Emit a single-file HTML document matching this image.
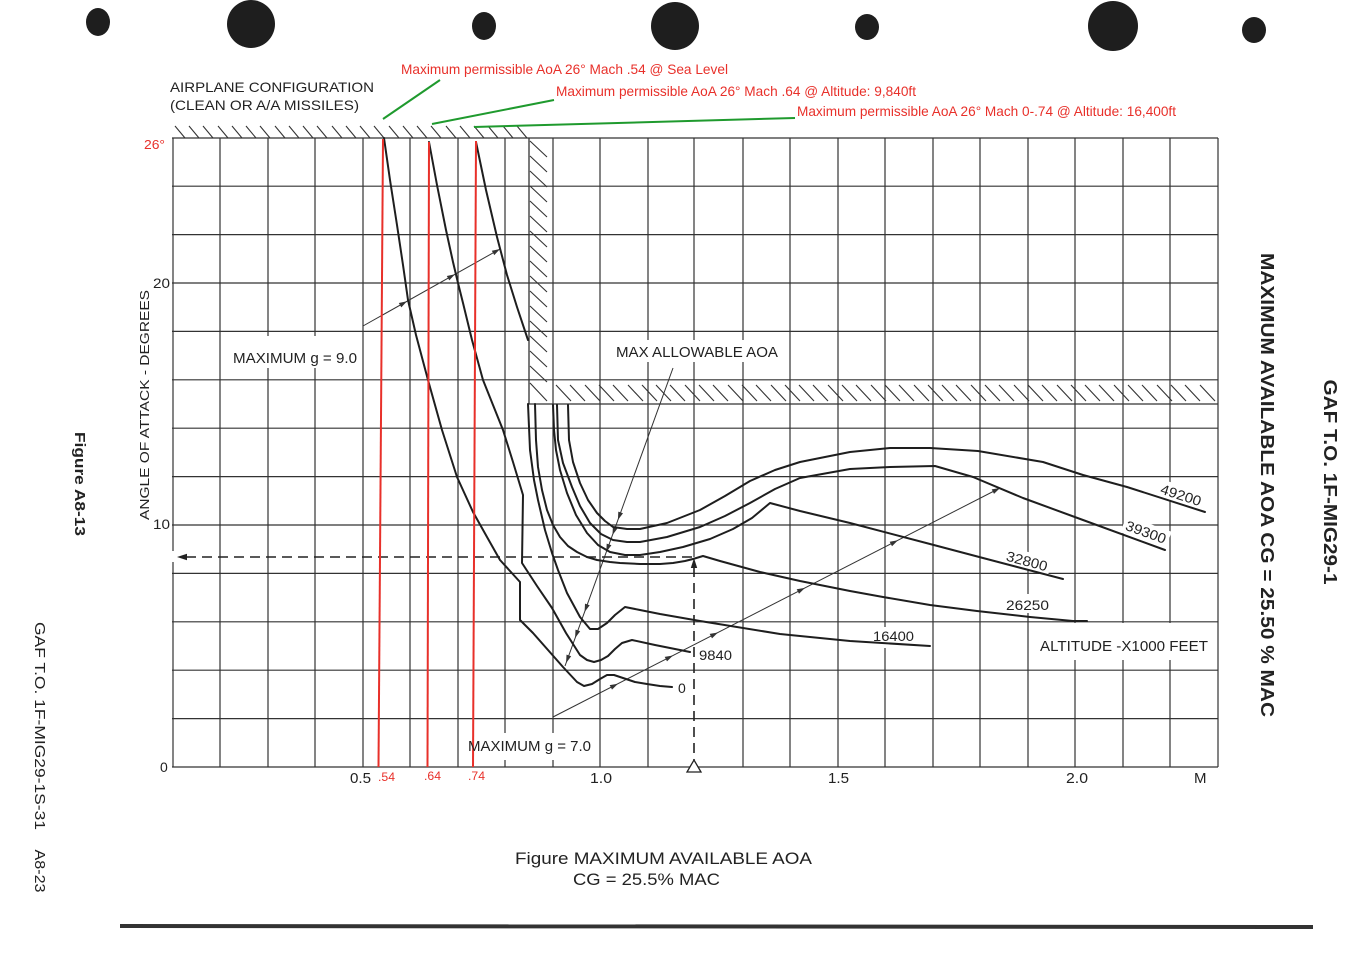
<!DOCTYPE html>
<html>
<head>
<meta charset="utf-8">
<style>
html,body{margin:0;padding:0;background:#fff;}
svg{display:block;}
text{font-family:"Liberation Sans",Arial,sans-serif;fill:#222;}
</style>
</head>
<body>
<svg width="1363" height="954" viewBox="0 0 1363 954" xmlns="http://www.w3.org/2000/svg">
<rect width="1363" height="954" fill="#fff"/>

<!-- punch holes -->
<g fill="#1e1e1e">
<ellipse cx="98" cy="22" rx="12" ry="14"/>
<circle cx="251" cy="24" r="24"/>
<ellipse cx="484" cy="26" rx="12" ry="14"/>
<circle cx="675" cy="26" r="24"/>
<ellipse cx="867" cy="27" rx="12" ry="13"/>
<circle cx="1113" cy="26" r="25"/>
<ellipse cx="1254" cy="30" rx="12" ry="13"/>
</g>

<!-- grid -->
<g stroke="#333" stroke-width="1.2" fill="none">
<path d="M173 138V767 M220 138V767 M268 138V767 M315 138V767 M363 138V767 M410 138V767 M458 138V767 M505 138V767 M553 138V767 M600 138V767 M648 138V767 M694 138V557 M743 138V767 M790 138V767 M838 138V767 M885 138V767 M933 138V767 M980 138V767 M1028 138V767 M1075 138V767 M1123 138V767 M1170 138V767 M1218 138V767"/>
<path d="M172 767H1218 M172 718.6H1218 M172 670.2H1218 M172 621.8H1218 M172 573.4H1218 M172 525H1218 M172 476.6H1218 M172 428.2H1218 M172 379.8H1218 M172 331.4H1218 M172 283H1218 M172 234.6H1218 M172 186.2H1218 M172 138H1218"/>
</g>
<!-- axis gap for dashed arrow -->
<rect x="170" y="551" width="5" height="11" fill="#fff"/>

<!-- boundary lines -->
<g stroke="#333" stroke-width="1.3" fill="none">
<path d="M529 138V404H1218"/>
</g>

<!-- hatching -->
<g stroke="#333" stroke-width="1.1" fill="none">
<path d="M175 126l10 12M189 126l10 12M203 126l10 12M218 126l10 12M232 126l10 12M246 126l10 12M260 126l10 12M275 126l10 12M289 126l10 12M303 126l10 12M317 126l10 12M332 126l10 12M346 126l10 12M360 126l10 12M374 126l10 12M389 126l10 12M403 126l10 12M417 126l10 12M431 126l10 12M446 126l10 12M460 126l10 12M474 126l10 12M488 126l10 12M503 126l10 12M517 126l10 12"/>
<path d="M530 141l17 16M530 156l17 16M530 171l17 16M530 186l17 16M530 201l17 16M530 216l17 16M530 231l17 16M530 246l17 16M530 261l17 16M530 276l17 16M530 291l17 16M530 306l17 16M530 321l17 16M530 336l17 16M530 351l17 16M530 366l17 16M530 383l17 18"/>
<path d="M556 385l15 16M570 385l15 16M585 385l15 16M599 385l15 16M613 385l15 16M628 385l15 16M642 385l15 16M656 385l15 16M670 385l15 16M685 385l15 16M699 385l15 16M713 385l15 16M728 385l15 16M742 385l15 16M756 385l15 16M771 385l15 16M785 385l15 16M799 385l15 16M813 385l15 16M828 385l15 16M842 385l15 16M856 385l15 16M871 385l15 16M885 385l15 16M899 385l15 16M914 385l15 16M928 385l15 16M942 385l15 16M956 385l15 16M971 385l15 16M985 385l15 16M999 385l15 16M1014 385l15 16M1028 385l15 16M1042 385l15 16M1057 385l15 16M1071 385l15 16M1085 385l15 16M1099 385l15 16M1114 385l15 16M1128 385l15 16M1142 385l15 16M1157 385l15 16M1171 385l15 16M1185 385l15 16M1200 385l15 16"/>
</g>

<!-- white label boxes -->
<g fill="#fff">
<rect x="226" y="336" width="133" height="32"/>
<rect x="610" y="340" width="175" height="22"/>
<rect x="462" y="733" width="135" height="27"/>
<rect x="1035" y="623" width="178" height="37"/>
<rect x="868" y="627" width="50" height="21"/>
<rect x="1002" y="594" width="51" height="19"/>
<rect x="696" y="643" width="40" height="17"/>
<rect x="676" y="677" width="12" height="16"/>
<rect x="1003" y="552" width="48" height="18" transform="rotate(15 1027 561)"/>
<rect x="1122" y="523" width="48" height="18" transform="rotate(20 1146 532)"/>
<rect x="1157" y="486" width="48" height="18" transform="rotate(18 1181 495)"/>
</g>

<!-- thin pointer lines -->
<g stroke="#333" stroke-width="1" fill="none">
<path d="M363 326L500 249"/>
<path d="M673 368L565 666"/>
<path d="M553 717L1000 488"/>
</g>
<g fill="#333">
<polygon points="407,301.3 401.3,307.4 398.8,303.0"/>
<polygon points="455,274.3 449.3,280.4 446.8,276.0"/>
<polygon points="500,249 494.3,255.1 491.8,250.7"/>
<polygon points="617.9,520 623,513.3 618.3,511.6"/>
<polygon points="612.5,535 617.6,528.3 612.9,526.6"/>
<polygon points="606.3,552 611.4,545.3 606.7,543.6"/>
<polygon points="584.6,612 589.7,605.3 585,603.6"/>
<polygon points="575.1,638 580.2,631.3 575.5,629.6"/>
<polygon points="566.1,663 571.2,656.3 566.5,654.6"/>
<polygon points="618,683.7 612,689.6 609.7,685.1"/>
<polygon points="673,655.5 667,661.4 664.7,656.9"/>
<polygon points="718,632.5 712,638.4 709.7,633.9"/>
<polygon points="805,587.9 799,593.8 796.7,589.3"/>
<polygon points="898,540.3 892,546.2 889.7,541.7"/>
<polygon points="1000,488 994,493.9 991.7,489.4"/>
</g>

<!-- dashed lines -->
<g stroke="#222" stroke-width="1.6" fill="none" stroke-dasharray="10 6">
<path d="M186 557H694"/>
<path d="M694 567V760"/>
</g>
<polygon points="177,557 187,553.8 187,560.2" fill="#222"/>
<polygon points="694,558 690.8,568 697.2,568" fill="#222"/>
<polygon points="687,772 701,772 694,760" fill="#fff" stroke="#222" stroke-width="1.3"/>

<!-- main curves -->
<g stroke="#1e1e1e" stroke-width="2" fill="none" stroke-linejoin="round" stroke-linecap="round">
<polyline points="384,138 390,180 397,225 403,265 408,300 416,335 428,380 442,430 457,477 473,512 487,537 500,560 520,582 520,620 533,633 548,650 563,667 577,682 584,686 592,684 600,679 607,675 614,675 623,678 635,682 647,684 660,686 672,687"/>
<polyline points="429,142 437,185 446,230 453,262 458,283 463,303 472,340 483,380 493,405 503,430 513,462 523,495 522,563 537,586 552,608 566,633 580,655 587,660 594,662 601,660 608,656 615,649 622,643 632,640 655,645 680,650 690,652"/>
<polyline points="476,142 486,190 497,237 507,275 517,307 528,340"/>
<polyline points="528,404 530,450 534,480 538,500 545,530 552,553 558,570 567,593 580,617 590,629 598,629 607,623 615,615 625,607 640,610 660,614 700,621 780,634 850,641 930,646"/>
<polyline points="535,404 536,440 538,467 542,490 547,510 553,525 560,537 568,546 577,552 587,557 597,560 610,562 620,563 640,564 660,564 673,563 685,561 693,559 703,556 720,561 760,572 800,581 850,591 883,597 930,605 977,611 1030,617 1073,621 1087,621"/>
<polyline points="553,405 554,430 556,450 560,470 567,493 576,515 587,533 598,545 610,552 625,555 640,555 660,552 683,547 710,539 733,529 752,518 770,503 800,511 850,523 930,544 983,558 1063,579"/>
<polyline points="557,405 558,440 563,463 572,487 580,506 590,523 601,534 613,540 627,542 640,542 667,537 700,527 725,516 750,503 775,489 800,478 850,469 890,467 935,466 973,477 1023,498 1083,520 1165,550"/>
<polyline points="568,405 569,440 573,462 580,483 588,500 597,513 605,521 613,527 627,529 640,529 667,523 700,510 725,496 750,481 775,470 800,462 850,452 890,448 930,448 978,451 1043,462 1083,475 1127,487 1205,512"/>
</g>

<!-- red lines -->
<g stroke="#e8302a" stroke-width="2" fill="none">
<path d="M383 139L378.5 767"/>
<path d="M429 142L427.5 767"/>
<path d="M476 141L473 767"/>
</g>
<!-- green leaders -->
<g stroke="#1f9a2e" stroke-width="2" fill="none">
<path d="M383 119L440 80"/>
<path d="M432 124L554 100"/>
<path d="M474 127L795 118"/>
</g>

<!-- texts -->
<text x="170" y="92" font-size="14" textLength="204" lengthAdjust="spacingAndGlyphs">AIRPLANE CONFIGURATION</text>
<text x="170" y="110" font-size="14" textLength="189" lengthAdjust="spacingAndGlyphs">(CLEAN OR A/A MISSILES)</text>

<g font-size="14" style="fill:#e8302a">
<text x="401" y="74" textLength="327" lengthAdjust="spacingAndGlyphs" style="fill:#e8302a">Maximum permissible AoA 26° Mach .54 @ Sea Level</text>
<text x="556" y="96" textLength="360" lengthAdjust="spacingAndGlyphs" style="fill:#e8302a">Maximum permissible AoA 26° Mach .64 @ Altitude: 9,840ft</text>
<text x="797" y="116" textLength="379" lengthAdjust="spacingAndGlyphs" style="fill:#e8302a">Maximum permissible AoA 26° Mach 0-.74 @ Altitude: 16,400ft</text>
<text x="144" y="149" font-size="13" textLength="21" lengthAdjust="spacingAndGlyphs" style="fill:#e8302a">26°</text>
<text x="378" y="781" font-size="12" textLength="17" lengthAdjust="spacingAndGlyphs" style="fill:#e8302a">.54</text>
<text x="424" y="780" font-size="12" textLength="17" lengthAdjust="spacingAndGlyphs" style="fill:#e8302a">.64</text>
<text x="468" y="780" font-size="12" textLength="17" lengthAdjust="spacingAndGlyphs" style="fill:#e8302a">.74</text>
</g>

<text x="153" y="288" font-size="14" textLength="17" lengthAdjust="spacingAndGlyphs">20</text>
<text x="153" y="529" font-size="14" textLength="17" lengthAdjust="spacingAndGlyphs">10</text>
<text x="160" y="772" font-size="14">0</text>

<text x="350" y="783" font-size="15" textLength="21" lengthAdjust="spacingAndGlyphs">0.5</text>
<text x="590" y="783" font-size="15" textLength="22" lengthAdjust="spacingAndGlyphs">1.0</text>
<text x="828" y="783" font-size="15" textLength="21" lengthAdjust="spacingAndGlyphs">1.5</text>
<text x="1066" y="783" font-size="15" textLength="22" lengthAdjust="spacingAndGlyphs">2.0</text>
<text x="1194" y="783" font-size="15">M</text>

<text x="149" y="405" font-size="13" text-anchor="middle" textLength="230" lengthAdjust="spacingAndGlyphs" transform="rotate(-90 149 405)">ANGLE OF ATTACK - DEGREES</text>

<text x="233" y="363" font-size="15" textLength="124" lengthAdjust="spacingAndGlyphs">MAXIMUM g = 9.0</text>
<text x="616" y="357" font-size="15" textLength="162" lengthAdjust="spacingAndGlyphs">MAX ALLOWABLE AOA</text>
<text x="468" y="751" font-size="15" textLength="123" lengthAdjust="spacingAndGlyphs">MAXIMUM g = 7.0</text>
<text x="699" y="660" font-size="14" textLength="33" lengthAdjust="spacingAndGlyphs">9840</text>
<text x="678" y="693" font-size="14">0</text>
<text x="873" y="641" font-size="14" textLength="41" lengthAdjust="spacingAndGlyphs">16400</text>
<text x="1006" y="610" font-size="14" textLength="43" lengthAdjust="spacingAndGlyphs">26250</text>
<text x="1027" y="566" font-size="14" text-anchor="middle" textLength="42" lengthAdjust="spacingAndGlyphs" transform="rotate(15 1027 561)">32800</text>
<text x="1146" y="537" font-size="14" text-anchor="middle" textLength="42" lengthAdjust="spacingAndGlyphs" transform="rotate(20 1146 532)">39300</text>
<text x="1181" y="500" font-size="14" text-anchor="middle" textLength="42" lengthAdjust="spacingAndGlyphs" transform="rotate(18 1181 495)">49200</text>
<text x="1040" y="651" font-size="15" textLength="168" lengthAdjust="spacingAndGlyphs">ALTITUDE -X1000 FEET</text>

<!-- right rotated titles -->
<text x="1261" y="485" font-size="18" font-weight="bold" text-anchor="middle" textLength="464" lengthAdjust="spacingAndGlyphs" transform="rotate(90 1261 485)">MAXIMUM AVAILABLE AOA CG = 25.50 % MAC</text>
<text x="1324" y="482" font-size="18" font-weight="bold" text-anchor="middle" textLength="205" lengthAdjust="spacingAndGlyphs" transform="rotate(90 1324 482)">GAF T.O. 1F-MIG29-1</text>

<!-- left rotated -->
<text x="75" y="484" font-size="15" font-weight="bold" text-anchor="middle" textLength="104" lengthAdjust="spacingAndGlyphs" transform="rotate(90 75 484)">Figure A8-13</text>
<text x="35" y="726" font-size="15" text-anchor="middle" textLength="208" lengthAdjust="spacingAndGlyphs" transform="rotate(90 35 726)">GAF T.O. 1F-MIG29-1S-31</text>
<text x="35" y="871" font-size="15" text-anchor="middle" textLength="43" lengthAdjust="spacingAndGlyphs" transform="rotate(90 35 871)">A8-23</text>

<!-- caption -->
<text x="515" y="864" font-size="17" textLength="297" lengthAdjust="spacingAndGlyphs">Figure MAXIMUM AVAILABLE AOA</text>
<text x="573" y="885" font-size="17" textLength="147" lengthAdjust="spacingAndGlyphs">CG = 25.5% MAC</text>

<!-- bottom rule -->
<polygon points="120,924 1313,925 1313,929 120,928" fill="#333"/>
</svg>
</body>
</html>
